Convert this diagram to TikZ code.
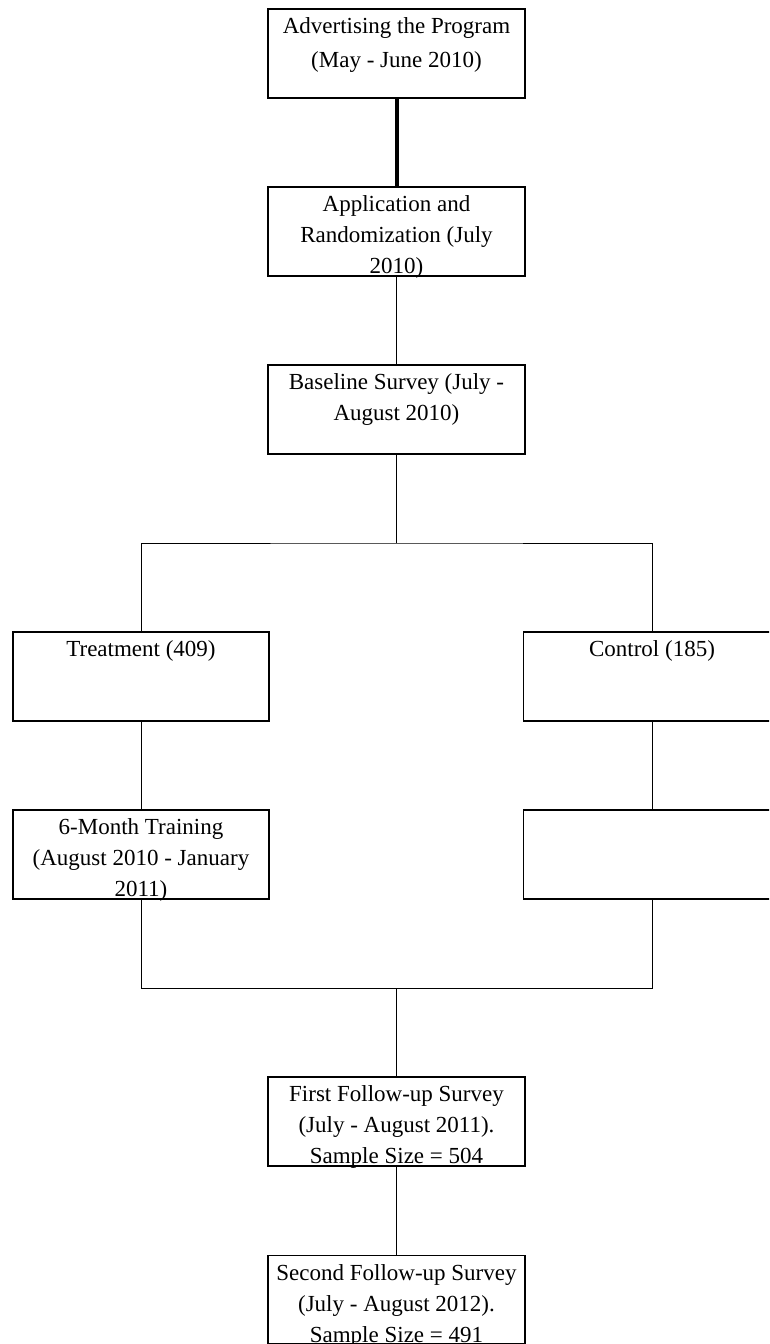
\documentclass[tikz,border=0pt]{standalone}
\usepackage{fontspec}
\setmainfont{Liberation Serif}
\begin{document}
\begin{tikzpicture}[x=1pt,y=-1pt,
  box/.style={draw=black,line width=1.4pt,minimum height=89pt,minimum width=257pt,inner sep=0pt,fill=white},
  txt/.style={anchor=north,inner sep=0pt,align=center,yshift=-3.3pt,font=\fontsize{23}{31}\selectfont},
  conn/.style={draw=black,line width=1pt}]
\clip (0,0) rectangle (769,1344);
\fill[white] (0,0) rectangle (769,1344);
% boxes
\node[box] (b1) at (396.5,53.5) {};
\node[box] (b2) at (396.5,231.5) {};
\node[box] (b3) at (396.5,409.5) {};
\node[box,minimum width=256pt] (treat) at (141,676.5) {};
\node[box] (ctrl) at (652,676.5) {};
\node[box,minimum width=256pt] (train) at (141,854.5) {};
\node[box] (rbox) at (652,854.5) {};
\node[box] (fu1) at (396.5,1121.5) {};
\node[box,minimum height=88pt] (fu2) at (396.5,1299.5) {};
\coordinate (j1) at (396.5,543);
\coordinate (j2) at (396.5,988);
% connectors
\draw[draw=black,line width=4pt] (b1.south) -- (b2.north);
\draw[conn] (b2.south) -- (b3.north);
\draw[conn] (b3.south) -- (j1);
\draw[conn] (treat.north) |- (j1) -| (ctrl.north);
\draw[conn] (treat.south) -- (train.north);
\draw[conn] (ctrl.south) -- (rbox.north);
\draw[conn] (train.south) |- (j2) -| (rbox.south);
\draw[conn] (j2) -- (fu1.north);
\draw[conn] (fu1.south) -- (fu2.north);
% texts
\node[txt,font=\fontsize{23}{34}\selectfont,yshift=2.1pt] (t1) at (b1.north) {\strut Advertising the Program\\\strut(May - June 2010)};
\node[txt] (t2) at (b2.north) {\strut Application and\\\strut Randomization (July\\\strut 2010)};
\node[txt] (t3) at (b3.north) {\strut Baseline Survey (July -\\\strut August 2010)};
\node[txt] (t4) at (treat.north) {\strut Treatment (409)};
\node[txt] (t5) at (ctrl.north) {\strut Control (185)};
\node[txt] (t6) at (train.north) {\strut 6-Month Training\\\strut(August 2010 - January\\\strut 2011)};
\node[txt] (t7) at (fu1.north) {\strut First Follow-up Survey\\\strut(July - August 2011).\\\strut Sample Size = 504};
\node[txt] (t8) at (fu2.north) {\strut Second Follow-up Survey\\\strut(July - August 2012).\\\strut Sample Size = 491};
\end{tikzpicture}
\end{document}
